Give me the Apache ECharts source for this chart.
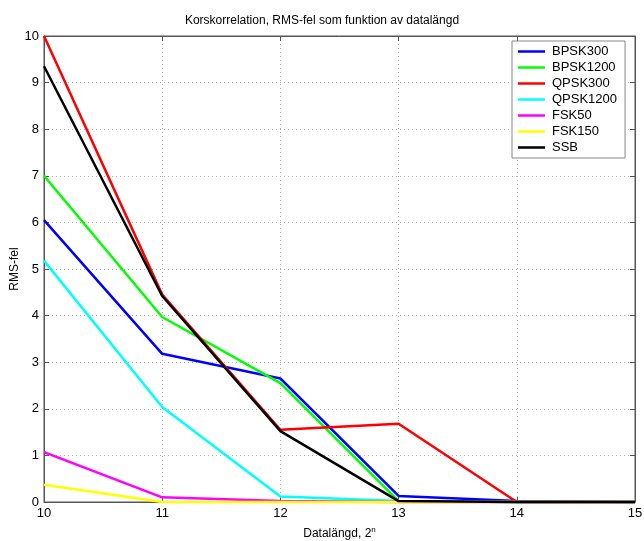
<!DOCTYPE html>
<html>
<head>
<meta charset="utf-8">
<script src="https://cdn.jsdelivr.net/npm/echarts@6/dist/echarts.min.js"></script>
<style>
  html, body { margin: 0; padding: 0; background: #fff; }
  #chart { width: 644px; height: 541px; }
</style>
</head>
<body>
<div id="chart"></div>
<script>
// datalängd (exponent n)
const lengths = [10, 11, 12, 13, 14, 15];

// RMS-fel per signal
const bpsk300  = [6.05, 3.18, 2.65, 0.13, 0.02, 0];
const bpsk1200 = [7.0, 3.97, 2.55, 0.02, 0, 0];
const qpsk300  = [10.0, 4.45, 1.55, 1.68, 0, 0];
const qpsk1200 = [5.18, 2.04, 0.12, 0.02, 0, 0];
const fsk50    = [1.07, 0.1, 0.02, 0, 0, 0];
const fsk150   = [0.37, 0, 0, 0, 0, 0];
const ssb      = [9.35, 4.42, 1.52, 0.02, 0, 0];

const seriesDefs = [
  { name: 'BPSK300', data: bpsk300, color: '#0000ff' },
  { name: 'BPSK1200', data: bpsk1200, color: '#00ff00' },
  { name: 'QPSK300', data: qpsk300, color: '#ff0000' },
  { name: 'QPSK1200', data: qpsk1200, color: '#00ffff' },
  { name: 'FSK50', data: fsk50, color: '#ff00ff' },
  { name: 'FSK150', data: fsk150, color: '#ffff00' },
  { name: 'SSB', data: ssb, color: '#000000' }
];

const font = 'Liberation Sans, Arial, sans-serif';
const chart = echarts.init(document.getElementById('chart'));

const gridLine = { show: true, lineStyle: { color: '#b0b0b0', type: [1, 3], width: 1 } };
const boxLine = { show: true, onZero: false, lineStyle: { color: '#555', width: 1 } };
const tick = { show: true, inside: true, length: 5, lineStyle: { color: '#555' } };

const option = {
  animation: false,
  backgroundColor: '#fff',
  title: {
    text: 'Korskorrelation, RMS-fel som funktion av datalängd',
    left: 'center',
    top: 10,
    textStyle: { fontFamily: font, fontSize: 12, fontWeight: 'normal', color: '#000' }
  },
  // y-axelns namn (RMS-fel) som fri text
  graphic: [{
    type: 'text',
    x: 15,
    y: 269,
    rotation: Math.PI / 2,
    style: {
      text: 'RMS-fel',
      font: '12px ' + font,
      fill: '#000',
      align: 'center',
      verticalAlign: 'middle'
    }
  }],
  legend: {
    orient: 'vertical',
    left: 512,
    top: 41,
    backgroundColor: '#fff',
    borderColor: '#888',
    borderWidth: 1,
    padding: [4, 8, 4, 6],
    itemGap: 3,
    itemWidth: 27,
    itemHeight: 14,
    icon: 'path://M0,6 L27,6 L27,8.5 L0,8.5 Z',
    textStyle: { fontFamily: font, fontSize: 13, color: '#000', padding: [0, 0, 0, 2] },
    data: seriesDefs.map(s => s.name)
  },
  grid: {
    left: 44, right: 9, top: 36, bottom: 39,
    outerBoundsMode: 'none', containLabel: false,
    show: true, borderColor: '#555', borderWidth: 1
  },
  xAxis: [{
    type: 'value',
    min: 10, max: 15, interval: 1,
    name: 'Datalängd, 2{sup|n}',
    nameLocation: 'middle',
    nameGap: 24,
    nameTextStyle: {
      fontFamily: font, fontSize: 12, color: '#000',
      rich: { sup: { fontFamily: font, fontSize: 8, verticalAlign: 'top', padding: [0, 0, 8, 0] } }
    },
    axisLine: boxLine,
    axisTick: tick,
    axisLabel: { fontFamily: font, fontSize: 13, color: '#000', margin: 5 },
    splitLine: gridLine
  }, {
    type: 'value', position: 'top',
    min: 10, max: 15, interval: 1,
    axisLine: boxLine,
    axisTick: tick,
    axisLabel: { show: false },
    splitLine: { show: false }
  }],
  yAxis: [{
    type: 'value',
    min: 0, max: 10, interval: 1,
    axisLine: boxLine,
    axisTick: tick,
    axisLabel: { fontFamily: font, fontSize: 13, color: '#000', margin: 5 },
    splitLine: gridLine
  }, {
    type: 'value', position: 'right',
    min: 0, max: 10, interval: 1,
    axisLine: boxLine,
    axisTick: tick,
    axisLabel: { show: false },
    splitLine: { show: false }
  }],
  series: seriesDefs.map(s => ({
    name: s.name,
    type: 'line',
    xAxisIndex: 0,
    yAxisIndex: 0,
    data: lengths.map((x, i) => [x, s.data[i]]),
    symbol: 'none',
    color: s.color,
    lineStyle: { color: s.color, width: 2.5 },
    clip: false
  }))
};

chart.setOption(option);
</script>
</body>
</html>
